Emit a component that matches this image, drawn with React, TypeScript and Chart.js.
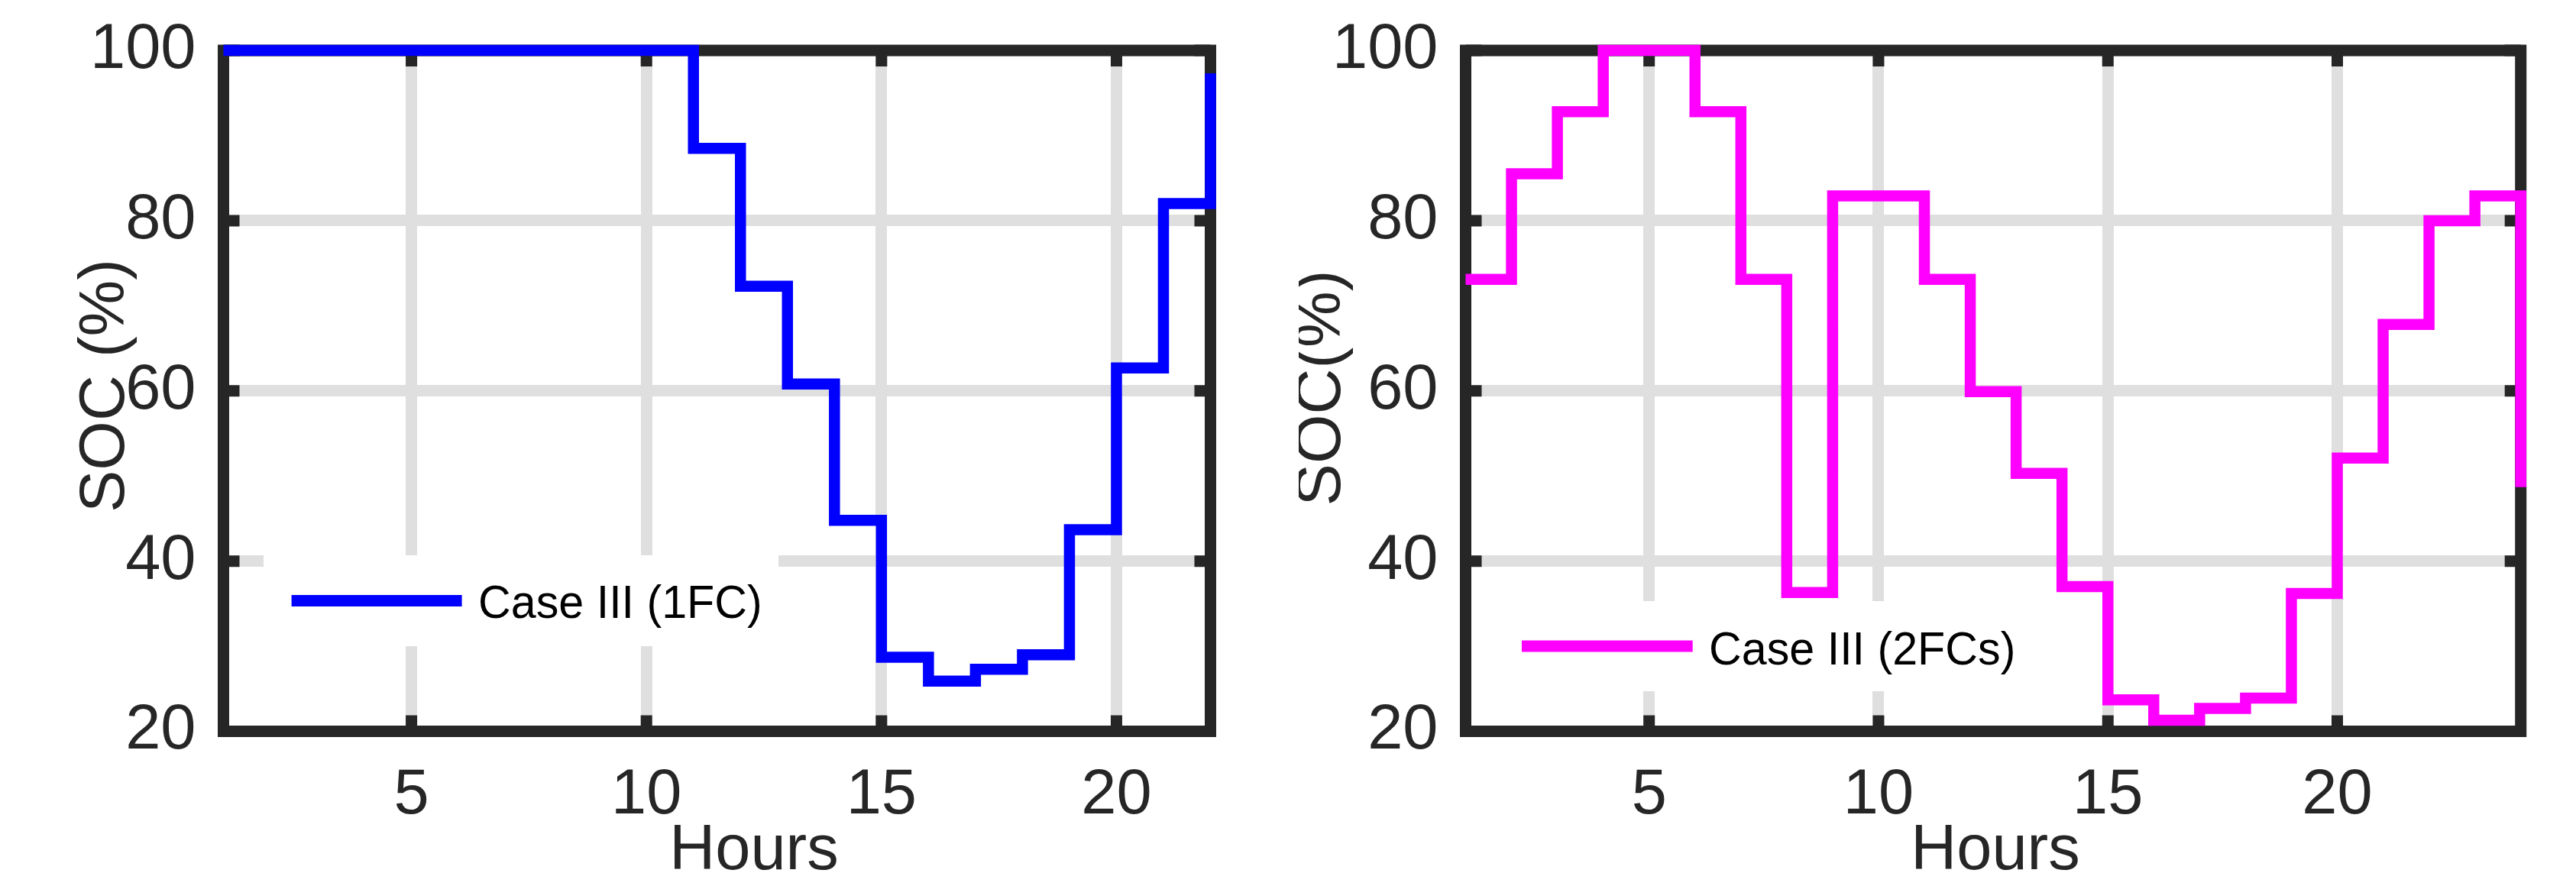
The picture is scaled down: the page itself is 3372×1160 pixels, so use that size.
import React, { useEffect, useRef } from "react";
import { Chart, registerables } from "chart.js";

Chart.register(...registerables);

// ---------- data ----------
const hours1FC = [1, 2, 3, 4, 5, 6, 7, 8, 9, 10, 11, 12, 13, 14, 15, 16, 17, 18, 19, 20, 21, 22];
const soc1FC = [100, 100, 100, 100, 100, 100, 100, 100, 100, 100, 88.5, 72.3, 60.8, 44.8, 28.7, 25.9, 27.3, 29.0, 43.7, 62.7, 82.0, 97.3];

const hours2FC = [1, 2, 3, 4, 5, 6, 7, 8, 9, 10, 11, 12, 13, 14, 15, 16, 17, 18, 19, 20, 21, 22, 23, 24];
const soc2FC = [73.1, 85.5, 92.8, 100, 100, 92.8, 73.1, 36.3, 82.9, 82.9, 73.1, 59.9, 50.3, 37.0, 23.7, 21.3, 22.7, 23.9, 36.2, 52.1, 67.8, 80.0, 82.9, 48.7];

const xTickValues = [5, 10, 15, 20];
const yTickValues = [20, 40, 60, 80, 100];
const xTitle = "Hours";
const yTitleLeft = "SOC (%)";
const yTitleRight = "SOC(%)";
const label1FC = "Case III (1FC)";
const label2FC = "Case III (2FCs)";

// ---------- style ----------
const FONT = "'Liberation Sans', Arial, Helvetica, sans-serif";
const TEXT = "#262626";
const AXIS = "#262626";
const GRID = "#dfdfdf";
const H = 1160;

type Panel = {
  left: number;
  width: number;
  area: { left: number; top: number; right: number; bottom: number };
  xMax: number;
  hours: number[];
  soc: number[];
  color: string;
  label: string;
  yTitle: string;
  xTitleX: number;
  xTitleBase: number;
  yTitleBase: number;
  yTitleY: number;
  legend: {
    box: [number, number, number, number];
    lineX1: number;
    lineX2: number;
    lineY: number;
    textX: number;
    textBase: number;
  };
};

const panels: Panel[] = [
  {
    left: 0,
    width: 1700,
    area: { left: 292.5, top: 66, right: 1584.5, bottom: 957.5 },
    xMax: 22,
    hours: hours1FC,
    soc: soc1FC,
    color: "#0000ff",
    label: label1FC,
    yTitle: yTitleLeft,
    xTitleX: 987,
    xTitleBase: 1138,
    yTitleBase: 161.5,
    yTitleY: 505,
    legend: { box: [345, 727, 1019, 846], lineX1: 381.6, lineX2: 604.6, lineY: 786.5, textX: 626, textBase: 809.3 },
  },
  {
    left: 1700,
    width: 1672,
    area: { left: 218.5, top: 66, right: 1599.7, bottom: 957.5 },
    xMax: 24,
    hours: hours2FC,
    soc: soc2FC,
    color: "#ff00ff",
    label: label2FC,
    yTitle: yTitleRight,
    xTitleX: 912,
    xTitleBase: 1138,
    yTitleBase: 54,
    yTitleY: 508,
    legend: { box: [255, 787, 959, 905], lineX1: 292, lineX2: 515.7, lineY: 846, textX: 537, textBase: 870 },
  },
];

function makePlugin(p: Panel) {
  return {
    id: "panelDecor",
    beforeDatasetsDraw(chart: any) {
      const { ctx, chartArea: a, scales } = chart;
      ctx.save();
      ctx.strokeStyle = AXIS;
      ctx.lineWidth = 15;
      ctx.lineCap = "butt";
      ctx.beginPath();
      for (const t of scales.x.ticks) {
        const px = scales.x.getPixelForValue(t.value);
        ctx.moveTo(px, a.top);
        ctx.lineTo(px, a.top + 21);
        ctx.moveTo(px, a.bottom);
        ctx.lineTo(px, a.bottom - 21);
      }
      for (const t of scales.y.ticks) {
        const py = scales.y.getPixelForValue(t.value);
        ctx.moveTo(a.left, py);
        ctx.lineTo(a.left + 21, py);
        ctx.moveTo(a.right, py);
        ctx.lineTo(a.right - 21, py);
      }
      ctx.stroke();
      ctx.lineJoin = "miter";
      ctx.strokeRect(a.left, a.top, a.right - a.left, a.bottom - a.top);
      ctx.restore();
    },
    afterDraw(chart: any) {
      const { ctx } = chart;
      ctx.save();
      // axis titles
      ctx.fillStyle = TEXT;
      ctx.font = `83px ${FONT}`;
      ctx.textAlign = "center";
      ctx.textBaseline = "alphabetic";
      ctx.fillText(xTitle, p.xTitleX, p.xTitleBase);
      ctx.save();
      ctx.translate(p.yTitleBase, p.yTitleY);
      ctx.rotate(-Math.PI / 2);
      ctx.fillText(p.yTitle, 0, 0);
      ctx.restore();
      // legend
      const ds = chart.data.datasets[0];
      const L = p.legend;
      ctx.fillStyle = "#ffffff";
      ctx.fillRect(L.box[0], L.box[1], L.box[2] - L.box[0], L.box[3] - L.box[1]);
      ctx.strokeStyle = ds.borderColor;
      ctx.lineWidth = 15;
      ctx.lineCap = "butt";
      ctx.beginPath();
      ctx.moveTo(L.lineX1, L.lineY);
      ctx.lineTo(L.lineX2, L.lineY);
      ctx.stroke();
      ctx.fillStyle = "#000000";
      ctx.font = `62px ${FONT}`;
      ctx.textAlign = "left";
      ctx.translate(L.textX, L.textBase);
      ctx.scale(0.955, 1);
      ctx.fillText(ds.label, 0, 0);
      ctx.restore();
    },
  };
}

function PanelChart({ p }: { p: Panel }) {
  const ref = useRef<HTMLCanvasElement | null>(null);
  useEffect(() => {
    if (!ref.current) return;
    const chart = new Chart(ref.current, {
      type: "line",
      data: {
        datasets: [
          {
            label: p.label,
            data: p.hours.map((h, i) => ({ x: h, y: p.soc[i] })),
            borderColor: p.color,
            backgroundColor: p.color,
            borderWidth: 14.5,
            pointRadius: 0,
            stepped: "before",
            fill: false,
            clip: false as any,
            borderJoinStyle: "miter",
            borderCapStyle: "butt",
          },
        ],
      },
      options: {
        animation: false,
        responsive: false,
        devicePixelRatio: 1,
        events: [],
        layout: {
          padding: { left: 0, top: p.area.top, right: p.width - p.area.right, bottom: 0 },
        },
        plugins: {
          legend: { display: false },
          tooltip: { enabled: false },
          title: { display: false },
        },
        scales: {
          x: {
            type: "linear",
            position: "bottom",
            min: 1,
            max: p.xMax,
            afterBuildTicks: (s: any) => {
              s.ticks = xTickValues.map((v) => ({ value: v }));
            },
            afterFit: (s: any) => {
              s.height = H - p.area.bottom;
              s.paddingLeft = 0;
              s.paddingRight = 0;
            },
            grid: { color: GRID, lineWidth: 15, drawTicks: false },
            border: { display: false },
            ticks: {
              color: TEXT,
              font: { family: FONT, size: 83 },
              padding: 35,
              maxRotation: 0,
              autoSkip: false,
            },
          },
          y: {
            type: "linear",
            position: "left",
            min: 20,
            max: 100,
            afterBuildTicks: (s: any) => {
              s.ticks = yTickValues.map((v) => ({ value: v }));
            },
            afterFit: (s: any) => {
              s.width = p.area.left;
              s.paddingTop = 0;
              s.paddingBottom = 0;
            },
            grid: { color: GRID, lineWidth: 15, drawTicks: false },
            border: { display: false },
            ticks: {
              color: TEXT,
              font: { family: FONT, size: 83 },
              padding: 36,
              autoSkip: false,
            },
          },
        },
      } as any,
      plugins: [makePlugin(p)],
    });
    return () => chart.destroy();
  }, [p]);
  return (
    <canvas
      ref={ref}
      width={p.width}
      height={H}
      style={{ position: "absolute", left: p.left, top: 0, width: p.width, height: H }}
    />
  );
}

export default function App() {
  return (
    <div
      style={{
        position: "absolute",
        left: 0,
        top: 0,
        width: 3372,
        height: H,
        background: "#ffffff",
        overflow: "hidden",
      }}
    >
      {panels.map((p, i) => (
        <PanelChart key={i} p={p} />
      ))}
    </div>
  );
}
